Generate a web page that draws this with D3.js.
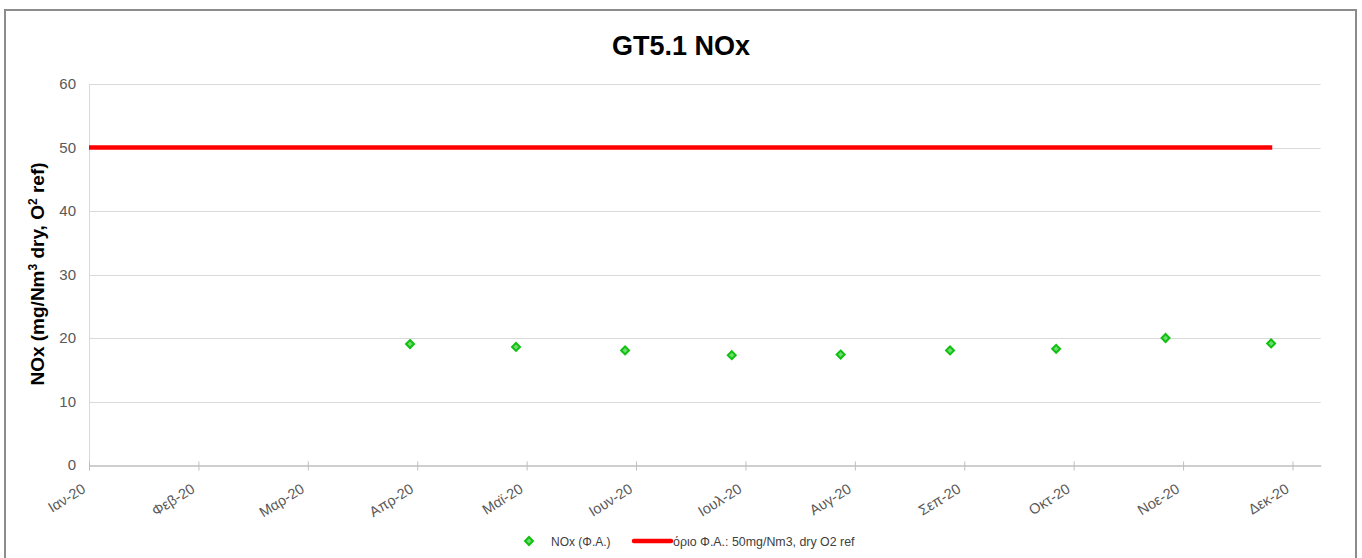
<!DOCTYPE html>
<html>
<head>
<meta charset="utf-8">
<script src="https://cdn.jsdelivr.net/npm/d3@7"></script>
<style>
html,body{margin:0;padding:0;background:#fff;}
svg{display:block;font-family:"Liberation Sans",Arial,sans-serif;}
</style>
</head>
<body>
<svg id="chart" width="1362" height="558"></svg>
<script>
// ---- data ----
const monthLabels = ["Ιαν-20","Φεβ-20","Μαρ-20","Απρ-20","Μαϊ-20","Ιουν-20","Ιουλ-20","Αυγ-20","Σεπ-20","Οκτ-20","Νοε-20","Δεκ-20"];
// sample positions in months from 1 Jan 2020 (fractional = day within month)
const sampleMonth = [2.934, 3.903, 4.900, 5.875, 6.870, 7.870, 8.840, 9.840, 10.805];
const noxValues   = [19.05, 18.6, 18.05, 17.3, 17.4, 18.05, 18.3, 20.0, 19.15];
const limitStart = 0, limitEnd = 10.815, limitValue = 50;
const yTicks = [0,10,20,30,40,50,60];
const titleText = "GT5.1 NOx";
const seriesNames = ["NOx (Φ.Α.)", "όριο Φ.Α.: 50mg/Nm3, dry O2 ref"];

// ---- layout ----
const svg = d3.select("#chart");
const x = d3.scaleLinear().domain([0, 11.258]).range([89, 1320.7]);
const y = d3.scaleLinear().domain([0, 60]).range([465, 84]);
const FONT = "'Liberation Sans',Arial,sans-serif";

// chart border
svg.append("rect").attr("x",5).attr("y",10).attr("width",1351).attr("height",560)
  .attr("fill","#fff").attr("stroke","#8c8c8c").attr("stroke-width",2);

// title
svg.append("text").attr("x",681).attr("y",55).attr("text-anchor","middle")
  .attr("font-size",27).attr("font-weight","bold").attr("fill","#000")
  .attr("font-family",FONT).text(titleText);

// gridlines
svg.append("g").selectAll("line").data(yTicks.filter(d=>d>0)).join("line")
  .attr("x1",x(0)).attr("x2",x.range()[1])
  .attr("y1",d=>Math.round(y(d))+0.5).attr("y2",d=>Math.round(y(d))+0.5)
  .attr("stroke","#d9d9d9").attr("stroke-width",1);

// left axis line (light)
svg.append("line").attr("x1",89.5).attr("x2",89.5).attr("y1",y(60)).attr("y2",y(0))
  .attr("stroke","#d9d9d9");

// y axis labels
const yAxis = d3.axisLeft(y).tickValues(yTicks).tickSize(0).tickPadding(13);
const gy = svg.append("g").attr("transform","translate(89,0)").call(yAxis);
gy.select(".domain").remove();
gy.selectAll("text").attr("font-size",15).attr("fill","#595959").attr("font-family",FONT);

// x axis
const xAxis = d3.axisBottom(x).tickValues(d3.range(monthLabels.length))
  .tickFormat(i=>monthLabels[i]).tickSize(6).tickSizeOuter(0);
const gx = svg.append("g").attr("transform","translate(0,"+(Math.round(y(0))+0.5)+")").call(xAxis);
gx.select(".domain").attr("stroke","#bfbfbf").attr("stroke-width",1.5);
gx.selectAll(".tick line").attr("stroke","#bfbfbf").attr("y1",-4).attr("y2",5);
gx.selectAll("text").attr("font-size",14.5).attr("fill","#595959").attr("font-family",FONT)
  .attr("text-anchor","end").attr("dy",0).attr("y",0)
  .attr("transform","translate(-3,26) rotate(-32)");

// y axis title
svg.append("text").attr("transform","translate(44,274) rotate(-90)")
  .attr("text-anchor","middle").attr("font-size",19).attr("font-weight","bold")
  .attr("fill","#000").attr("font-family",FONT)
  .call(t=>{
    t.append("tspan").text("NOx (mg/Nm");
    t.append("tspan").attr("baseline-shift","super").attr("font-size",12).text("3");
    t.append("tspan").text(" dry, O");
    t.append("tspan").attr("baseline-shift","super").attr("font-size",12).text("2");
    t.append("tspan").text(" ref)");
  });

// limit line
svg.append("line").attr("x1",x(limitStart)).attr("x2",x(limitEnd))
  .attr("y1",y(limitValue)).attr("y2",y(limitValue))
  .attr("stroke","#ff0000").attr("stroke-width",4.5).attr("stroke-linecap","butt");

// markers
const diamond = d3.symbol().type(d3.symbolDiamond2).size(40);
svg.append("g").selectAll("path").data(sampleMonth).join("path")
  .attr("d",diamond)
  .attr("transform",(d,i)=>`translate(${x(d)},${y(noxValues[i])})`)
  .attr("fill","#6fdc6f").attr("stroke","#10c010").attr("stroke-width",2);

// legend
const lg = svg.append("g");
lg.append("path").attr("d",diamond).attr("transform","translate(529,541)")
  .attr("fill","#6fdc6f").attr("stroke","#10c010").attr("stroke-width",2);
lg.append("text").attr("x",551).attr("y",545.5).attr("font-size",12).attr("fill","#404040")
  .attr("font-family",FONT).text(seriesNames[0]);
lg.append("line").attr("x1",634).attr("x2",671).attr("y1",541).attr("y2",541)
  .attr("stroke","#ff0000").attr("stroke-width",4.5).attr("stroke-linecap","round");
lg.append("text").attr("x",673).attr("y",545.5).attr("font-size",12.4).attr("fill","#404040")
  .attr("font-family",FONT).text(seriesNames[1]);
</script>
</body>
</html>
